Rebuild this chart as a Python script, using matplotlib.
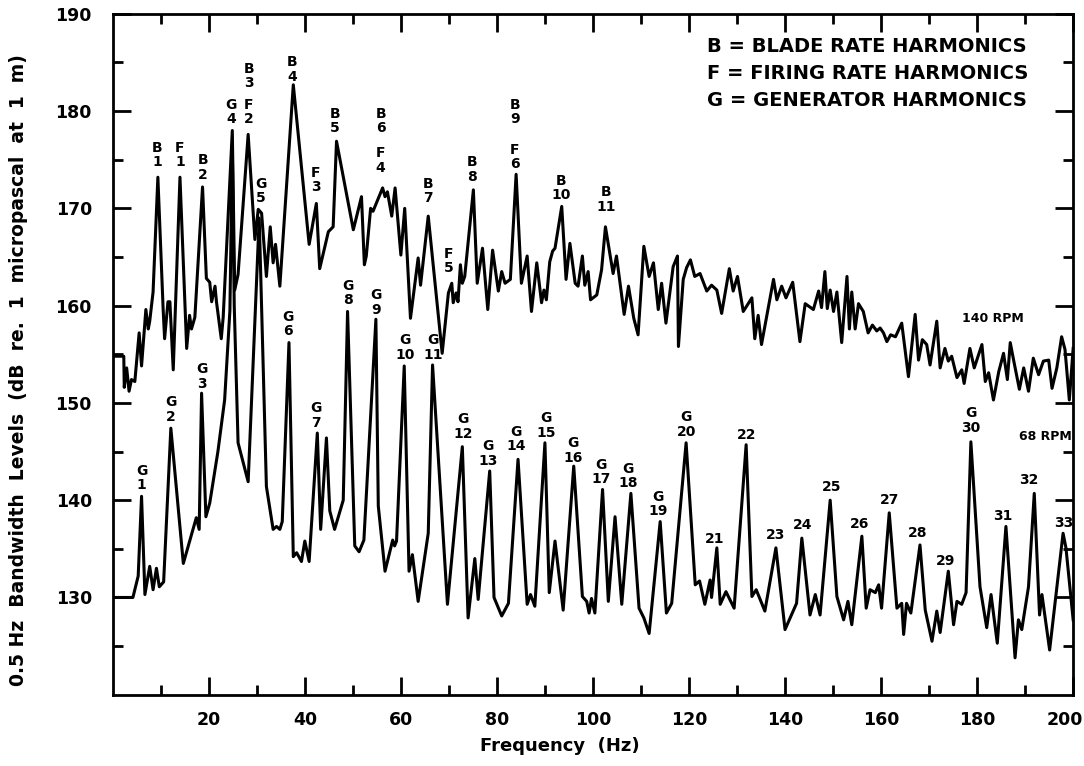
import matplotlib
matplotlib.use('Agg')
import matplotlib.pyplot as plt
from matplotlib.ticker import FixedLocator

plt.rcParams['font.family'] = ['DejaVu Sans']
plt.rcParams['font.weight'] = 'bold'

# 140 RPM spectrum (Hz, dB)
freq_140 = [0, 2.3, 2.4, 2.9, 3.4, 3.9, 4.6, 5.5, 6.0, 6.9, 7.4, 7.7, 8.4, 9.4, 10.5, 10.8, 11.5, 11.9, 12.6,
            14.0, 15.4, 16.0, 16.4, 17.1, 18.7, 19.5, 20.2, 20.6, 21.3, 21.6, 22.6, 23.0, 24.9, 25.4, 26.1,
            28.2, 29.6, 30.3, 31.0, 32.0, 32.8, 33.4, 33.9, 34.8, 37.6, 40.9, 42.4, 43.1, 44.9, 45.9, 46.6,
            50.1, 51.8, 52.4, 52.8, 53.7, 54.2, 56.2, 56.7, 57.2, 58.1, 58.8, 60.0, 60.8, 62.0, 63.6, 64.1,
            65.7, 68.6, 69.9, 70.6, 70.9, 71.5, 71.9, 72.4, 72.8, 73.3, 75.1, 75.9, 77.0, 78.1, 79.1, 80.3,
            81.0, 81.7, 82.8, 84.0, 85.1, 86.3, 87.2, 88.3, 89.3, 89.8, 90.3, 91.0, 91.6, 92.1, 93.5, 94.4,
            95.2, 96.3, 96.9, 97.8, 98.3, 99.0, 99.5, 100.8, 101.8, 102.6, 104.2, 104.9, 106.5, 107.4, 108.5,
            109.4, 110.6, 111.7, 112.6, 113.6, 114.3, 115.2, 116.0, 116.7, 117.6, 117.8, 118.8, 119.5, 120.3,
            121.2, 122.3, 123.7, 124.7, 125.8, 126.8, 128.4, 129.2, 130.1, 131.3, 133.1, 133.7, 134.4, 135.1,
            137.6, 138.3, 139.3, 140.2, 141.6, 143.1, 144.2, 145.9, 147.0, 147.6, 148.3, 148.8, 149.4, 150.1,
            150.8, 151.8, 152.9, 153.4, 153.9, 154.6, 155.3, 156.3, 157.3, 158.2, 159.1, 159.8, 160.5, 161.2,
            162.0, 163.0, 164.3, 165.7, 167.1, 167.8, 168.6, 169.5, 170.2, 171.6, 172.3, 173.3, 174.0, 174.7,
            175.8, 176.8, 177.3, 178.5, 179.4, 181.0, 181.7, 182.4, 183.4, 184.5, 185.5, 186.3, 186.9, 187.6,
            188.8, 189.7, 190.7, 191.7, 192.8, 193.8, 194.9, 195.6, 196.6, 197.6, 198.3, 199.2, 200]
level_140 = [154.8, 154.8, 151.6, 153.6, 151.2, 152.4, 152.2, 157.2, 153.8, 159.6, 157.6, 158.4, 161.4, 173.2,
             159.6, 156.6, 160.4, 160.4, 153.4, 173.2, 155.6, 159.0, 157.6, 158.8, 172.2, 162.8, 162.4, 160.4,
             162.0, 160.4, 156.6, 158.8, 178.0, 161.6, 163.2, 177.6, 166.8, 169.9, 169.5, 163.0, 168.1, 164.4,
             166.3, 162.0, 182.7, 166.3, 170.5, 163.8, 167.6, 168.1, 176.9, 167.8, 171.2, 164.2, 165.1, 170.0,
             169.7, 172.1, 171.2, 171.7, 169.2, 172.1, 165.2, 170.0, 158.7, 164.9, 162.1, 169.2, 155.1, 161.3,
             162.3, 160.3, 161.3, 160.4, 164.2, 162.3, 163.0, 171.9, 162.3, 165.9, 159.6, 165.7, 161.5, 163.5,
             162.3, 162.7, 173.5, 162.3, 165.1, 159.4, 164.4, 160.3, 161.6, 160.6, 164.5, 165.6, 165.9, 170.2,
             162.7, 166.4, 162.3, 162.0, 165.1, 162.1, 163.5, 160.6, 161.1, 163.7, 168.1, 163.3, 165.1, 159.1,
             162.0, 158.7, 157.0, 166.1, 163.0, 164.4, 159.6, 162.3, 158.2, 161.3, 164.0, 165.1, 155.8, 162.7,
             163.9, 164.7, 163.0, 163.3, 161.5, 162.1, 161.6, 159.2, 163.8, 161.5, 163.0, 159.4, 160.8, 156.6,
             159.0, 156.0, 162.7, 160.6, 162.0, 160.8, 162.4, 156.3, 160.2, 159.6, 161.5, 159.8, 163.5, 159.7,
             161.6, 159.4, 161.4, 156.2, 163.0, 157.6, 161.4, 157.6, 160.2, 159.4, 157.2, 158.0, 157.4, 157.7,
             157.2, 156.3, 157.0, 156.8, 158.2, 152.7, 159.1, 154.4, 156.5, 156.0, 153.9, 158.4, 153.6, 155.6,
             154.3, 154.8, 152.6, 153.4, 152.0, 155.6, 153.6, 156.0, 152.2, 153.1, 150.3, 153.2, 155.1, 152.4,
             156.2, 154.4, 151.4, 153.6, 151.2, 154.6, 152.9, 154.3, 154.4, 151.5, 153.6, 156.8, 155.5, 150.3,
             155.6]

# 68 RPM spectrum (Hz, dB)
freq_68 = [0, 4.2, 5.3, 6.0, 6.7, 7.7, 8.4, 9.1, 9.7, 10.6, 12.1, 14.7, 17.4, 18.0, 18.5, 19.4, 20.2, 21.9,
           23.3, 24.4, 24.9, 25.3, 26.1, 28.2, 30.5, 32.0, 33.4, 34.1, 34.8, 35.3, 36.7, 37.6, 38.3, 39.3,
           40.0, 40.9, 42.6, 43.3, 44.5, 45.2, 46.2, 48.0, 48.9, 50.4, 51.3, 52.3, 54.8, 55.3, 56.7, 58.3,
           58.7, 59.1, 60.7, 61.7, 62.4, 63.6, 65.7, 66.6, 69.7, 72.8, 74.0, 75.4, 76.1, 78.5, 79.4, 81.0,
           82.4, 84.4, 86.3, 87.0, 87.9, 90.0, 90.9, 92.1, 93.8, 96.0, 97.8, 98.7, 99.2, 99.7, 100.4, 102.0,
           103.2, 104.6, 106.0, 107.9, 109.6, 110.6, 111.7, 114.0, 115.3, 116.4, 119.4, 121.3, 122.2, 123.3,
           124.4, 124.7, 125.8, 126.5, 127.7, 129.4, 131.9, 133.1, 134.0, 135.8, 138.1, 140.0, 142.4, 143.5,
           145.2, 146.3, 147.3, 149.4, 150.8, 152.2, 153.1, 153.9, 156.0, 156.9, 157.7, 158.8, 159.5, 160.1,
           161.7, 163.3, 164.3, 164.7, 165.3, 166.2, 168.1, 169.2, 170.6, 171.6, 172.3, 174.0, 175.1, 175.8,
           176.8, 177.7, 178.7, 180.6, 182.0, 182.9, 184.2, 186.0, 187.9, 188.6, 189.3, 190.7, 191.9, 193.0,
           193.5, 195.1, 197.9, 198.5, 200]
level_68 = [130.0, 130.0, 132.2, 140.4, 130.3, 133.2, 130.8, 133.0, 131.1, 131.6, 147.4, 133.5, 138.2, 137.0,
            151.0, 138.3, 139.7, 145.0, 150.3, 159.5, 176.5, 160.0, 145.9, 141.9, 169.0, 141.4, 137.0, 137.3,
            137.0, 137.8, 156.2, 134.2, 134.6, 133.7, 135.8, 133.7, 146.9, 137.0, 146.4, 138.9, 137.0, 140.0,
            159.4, 135.3, 134.7, 135.9, 158.6, 139.4, 132.7, 135.9, 135.3, 135.8, 153.8, 132.7, 134.4, 129.6,
            136.6, 153.9, 129.3, 145.5, 127.9, 134.0, 129.8, 143.0, 130.0, 128.1, 129.4, 144.2, 129.3, 130.3,
            129.1, 145.9, 130.5, 135.8, 128.7, 143.5, 130.1, 129.6, 128.4, 129.9, 128.4, 141.1, 129.6, 138.3,
            129.3, 140.7, 128.9, 127.9, 126.3, 137.8, 128.4, 129.4, 145.9, 131.3, 131.7, 129.3, 131.8, 130.0,
            135.1, 129.3, 130.6, 128.9, 145.7, 130.1, 130.8, 128.6, 135.1, 126.7, 129.4, 136.1, 128.2, 130.3,
            128.2, 140.0, 130.1, 127.7, 129.6, 127.2, 136.3, 128.9, 130.8, 130.5, 131.3, 128.9, 138.7, 128.9,
            129.4, 126.2, 129.4, 128.4, 135.4, 128.7, 125.5, 128.6, 126.4, 132.7, 127.2, 129.6, 129.3, 130.5,
            146.0, 131.1, 126.9, 130.3, 125.3, 137.3, 123.8, 127.7, 126.7, 131.1, 140.7, 128.2, 130.3, 124.6,
            136.6, 135.1, 127.7]

# harmonic labels (text, centre of text in Hz / dB)
peak_text = ['B\n1', 'F\n1', 'B\n2', 'G\n4', 'B\n3', 'F\n2', 'G\n5', 'B\n4', 'F\n3', 'B\n5', 'B\n6', 'F\n4',
             'B\n7', 'F\n5', 'B\n8', 'B\n9', 'F\n6', 'B\n10', 'B\n11',
             'G\n1', 'G\n2', 'G\n3', 'G\n6', 'G\n7', 'G\n8', 'G\n9', 'G\n10', 'G\n11', 'G\n12', 'G\n13',
             'G\n14', 'G\n15', 'G\n16', 'G\n17', 'G\n18', 'G\n19', 'G\n20', '21', '22', '23', '24', '25',
             '26', '27', '28', '29', 'G\n30', '31', '32', '33']
peak_freq = [9.2, 14.0, 18.75, 24.6, 28.3, 28.3, 30.8, 37.3, 42.3, 46.25, 55.8, 55.8, 65.6, 70.0, 74.8,
             83.75, 83.75, 93.3, 102.7,
             6.0, 12.1, 18.5, 36.5, 42.3, 49.0, 54.8, 60.8, 66.7, 72.9, 78.1, 84.0, 90.2, 95.8, 101.7,
             107.3, 113.5, 119.4, 125.4, 131.9, 138.1, 143.75, 149.6, 155.6, 161.7, 167.7, 173.5, 178.75,
             185.4, 190.8, 198.1]
peak_level = [175.5, 175.5, 174.2, 179.9, 183.6, 179.9, 171.8, 184.3, 172.9, 179.0, 179.0, 174.9, 171.8,
              164.6, 174.0, 179.9, 175.3, 172.1, 170.9,
              142.3, 149.3, 152.7, 158.1, 148.7, 161.3, 160.3, 155.7, 155.7, 147.6, 144.8, 146.3, 147.7,
              145.1, 142.9, 142.5, 139.6, 147.8, 136.0, 146.7, 136.4, 137.4, 141.4, 137.6, 140.0, 136.6,
              133.8, 148.2, 138.4, 142.1, 137.7]

legend_lines = ['B = BLADE RATE HARMONICS', 'F = FIRING RATE HARMONICS', 'G = GENERATOR HARMONICS']
x_ticks = [20, 40, 60, 80, 100, 120, 140, 160, 180, 200]
y_ticks = [130, 140, 150, 160, 170, 180, 190]


def plotSpectra(path='out.png'):
    fig = plt.figure(figsize=(10.84, 7.66), dpi=100)
    ax = fig.add_axes([0.104, 0.093, 0.886, 0.889])

    ax.plot(freq_140, level_140, color='black', lw=2.2)
    ax.plot(freq_68, level_68, color='black', lw=2.2)

    ax.set_xlim(0, 200)
    ax.set_ylim(120, 190)

    ax.xaxis.set_major_locator(FixedLocator(x_ticks))
    ax.xaxis.set_minor_locator(FixedLocator(range(10, 200, 20)))
    ax.yaxis.set_major_locator(FixedLocator(y_ticks))
    ax.yaxis.set_minor_locator(FixedLocator(range(125, 190, 10)))
    # last x label is placed by hand so it does not run off the figure
    ax.set_xticklabels([str(t) for t in x_ticks[:-1]] + [''])
    ax.annotate(str(x_ticks[-1]), xy=(x_ticks[-1], 120), xytext=(-6, -12), textcoords='offset points',
                ha='center', va='top', fontsize=12.5, fontweight='bold', annotation_clip=False)

    ax.tick_params(which='both', direction='in', top=True, right=True, width=2, color='black')
    ax.tick_params(which='major', length=13)
    ax.tick_params(which='minor', length=7)
    ax.tick_params(axis='x', which='major', pad=12, labelsize=12.5)
    ax.tick_params(axis='y', which='major', pad=15, labelsize=12.5)
    for lab in ax.get_xticklabels() + ax.get_yticklabels():
        lab.set_fontweight('bold')
    for sp in ax.spines.values():
        sp.set_linewidth(2)

    for txt, f, v in zip(peak_text, peak_freq, peak_level):
        ax.text(f, v, txt, ha='center', va='center', fontsize=10, fontweight='bold', linespacing=1.05)

    ax.text(183.3, 158.7, '140 RPM', ha='center', va='center', fontsize=9, fontweight='bold')
    ax.text(199.8, 146.5, '68 RPM', ha='right', va='center', fontsize=9, fontweight='bold')

    for i, line in enumerate(legend_lines):
        ax.text(0.619, 0.952 - i * 0.04, line, transform=ax.transAxes, ha='left', va='center',
                fontsize=14, fontweight='bold')

    fig.text(0.017, 0.517, '0.5 Hz  Bandwidth  Levels  (dB  re.  1  micropascal  at  1  m)',
             rotation=90, ha='center', va='center', fontsize=13.5, fontweight='bold')
    fig.text(0.516, 0.026, 'Frequency  (Hz)', ha='center', va='center', fontsize=13, fontweight='bold')

    fig.savefig(path, dpi=100)


plotSpectra()
